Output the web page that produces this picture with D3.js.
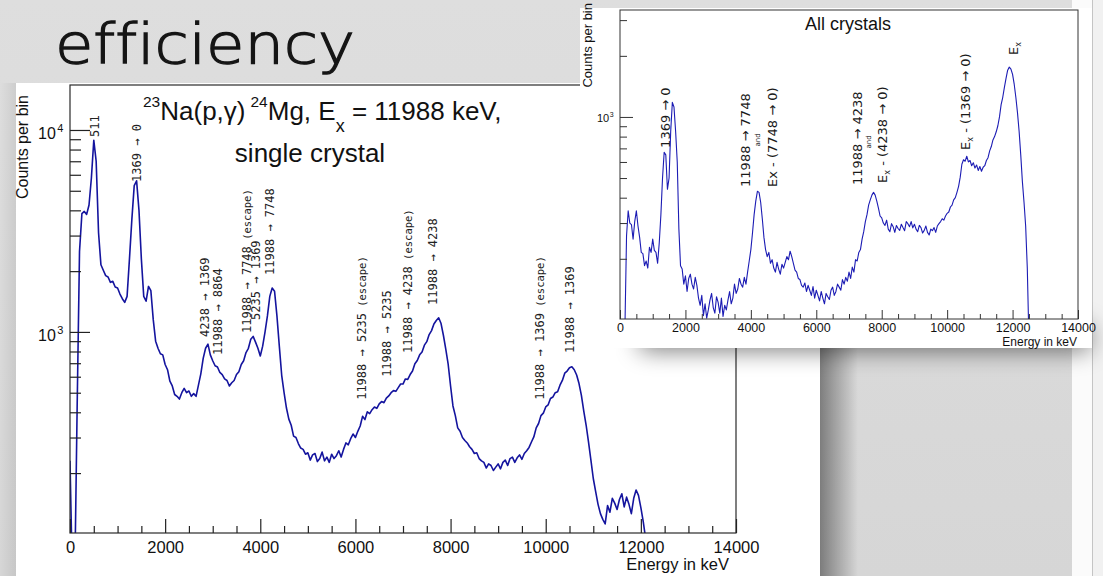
<!DOCTYPE html>
<html>
<head>
<meta charset="utf-8">
<script src="https://cdn.jsdelivr.net/npm/d3@7"></script>
<style>
  html, body { margin: 0; padding: 0; background: #d9d9d9; }
  svg { display: block; }
</style>
</head>
<body>
<svg id="slide" width="1103" height="576"></svg>
<script>
// ---- spectra: counts per 50 keV bin, starting at 0 keV ----
const binWidthKeV = 50;

const singleCrystalCounts = [
  230, 60, 60, 420, 2500, 3850, 3950, 3820, 4250, 5800, 8900, 7000, 3100, 2150, 2020, 1900, 1870, 1760, 1780, 1670,
  1650, 1540, 1460, 1400, 1500, 2300, 3600, 5300, 5600, 4000, 2300, 1500, 1420, 1680, 1600, 1150, 900, 830, 780, 770,
  690, 650, 570, 540, 490, 480, 465, 500, 525, 500, 510, 480, 495, 480, 545, 620, 740, 830, 870, 770,
  720, 680, 670, 630, 615, 585, 575, 540, 560, 575, 615, 635, 690, 720, 790, 830, 920, 950, 890, 830,
  760, 850, 1000, 1200, 1500, 1650, 1590, 1200, 850, 610, 500, 420, 370, 345, 305, 300, 280, 266, 262, 248,
  252, 232, 246, 250, 228, 236, 254, 230, 240, 226, 248, 236, 244, 258, 240, 262, 282, 276, 296, 312,
  300, 322, 342, 382, 368, 402, 394, 412, 425, 418, 440, 452, 446, 470, 482, 500, 512, 508, 530, 552,
  552, 585, 582, 615, 640, 695, 722, 770, 795, 860, 895, 970, 1015, 1095, 1140, 1175, 1100, 960, 820, 690,
  540, 430, 385, 335, 322, 300, 290, 282, 270, 262, 250, 252, 236, 230, 226, 212, 222, 218, 206, 214,
  222, 210, 226, 232, 218, 236, 240, 226, 238, 246, 234, 250, 258, 268, 285, 302, 335, 352, 385, 396,
  425, 435, 468, 476, 500, 505, 545, 575, 625, 640, 665, 672, 650, 612, 555, 485, 405, 345, 285, 232,
  188, 162, 140, 126, 118, 112, 138, 128, 150, 142, 132, 148, 158, 136, 152, 140, 126, 150, 165, 155,
  135, 115, 95, 60
];

const allCrystalsCounts = [
  60, 60, 60, 90, 260, 345, 300, 295, 250, 305, 345, 290, 255, 215, 212, 185, 195, 180, 228, 215,
  250, 220, 215, 190, 240, 330, 500, 670, 650, 440, 500, 850, 1180, 1120, 850, 600, 280, 185, 178, 150,
  165, 138, 160, 168, 150, 142, 162, 148, 128, 118, 132, 105, 120, 102, 112, 125, 135, 115, 108, 130,
  122, 108, 128, 104, 118, 112, 125, 138, 120, 128, 150, 135, 142, 160, 150, 145, 162, 150, 172, 195,
  222, 268, 330, 385, 430, 425, 380, 315, 255, 222, 205, 215, 190, 198, 180, 172, 192, 178, 168, 188,
  180, 192, 205, 198, 218, 205, 190, 176, 172, 160, 158, 148, 145, 152, 138, 148, 140, 132, 146, 128,
  140, 132, 124, 138, 128, 120, 135, 130, 126, 140, 145, 132, 138, 150, 145, 140, 158, 150, 162, 155,
  172, 160, 182, 172, 198, 195, 215, 222, 250, 272, 305, 330, 368, 390, 412, 425, 412, 385, 355, 325,
  318, 300, 292, 310, 280, 272, 298, 288, 270, 292, 282, 276, 296, 285, 275, 305, 298, 288, 305, 284,
  296, 280, 272, 292, 285, 268, 276, 290, 270, 262, 280, 275, 285, 270, 290, 298, 305, 315, 310, 325,
  335, 340, 360, 368, 390, 400, 425, 455, 505, 585, 615, 605, 640, 600, 610, 575, 595, 560, 580, 545,
  570, 540, 565, 575, 610, 630, 680, 715, 770, 800, 845, 905, 1000, 1150, 1250, 1400, 1550, 1700, 1760, 1720,
  1620, 1450, 1250, 1050, 850, 650, 480, 380, 290, 180, 80, 50
];

// ---- axes ----
const energyDomain = [0, 14000];
const energyTicks = [0, 2000, 4000, 6000, 8000, 10000, 12000, 14000];
const energyMinorStep = 500;
const singleCountsDomain = [101, 16700];
const allCountsDomain = [101, 3365];
const decadeTicks = [100, 1000, 10000];

// ---- annotations: [text, smaller suffix, energy keV, counts at text start] ----
const singleCrystalLabels = [
  ["511", "", 525, 9230],
  ["1369 \u2192 0", "", 1408, 5530],
  ["4238 \u2192 1369", "", 2838, 945],
  ["11988 \u2192 8864", "", 3111, 769],
  ["11988 \u2192 7748", " (escape)", 3721, 989],
  ["5235 \u2192 1369", "", 3910, 1147],
  ["11988 \u2192 7748", "", 4204, 1915],
  ["11988 \u2192 5235", " (escape)", 6138, 461],
  ["11988 \u2192 5235", "", 6664, 599],
  ["11988 \u2192 4238", " (escape)", 7105, 787],
  ["11988 \u2192 4238", "", 7631, 1360],
  ["11988 \u2192 1369", " (escape)", 9880, 461],
  ["11988 \u2192 1369", "", 10511, 787]
];

// pieces: [text, "sub" or ""]; anchor energy, counts
const allCrystalsLabels = [
  { parts: [["1369 \u2192 0", ""]], e: 1376, c: 704 },
  { parts: [["11988 \u2192 7748", ""]], e: 3821, c: 452 },
  { parts: [["and", ""]], e: 4219, c: 770, small: true },
  { parts: [["Ex - (7748 \u2192 0)", ""]], e: 4647, c: 452 },
  { parts: [["11988 \u2192 4238", ""]], e: 7245, c: 462 },
  { parts: [["and", ""]], e: 7612, c: 753, small: true },
  { parts: [["E", ""], ["x", "sub"], [" - (4238 \u2192 0)", ""]], e: 8010, c: 473 },
  { parts: [["E", ""], ["x", "sub"], [" - (1369 \u2192 0)", ""]], e: 10547, c: 688 },
  { parts: [["E", ""], ["x", "sub"]], e: 12015, c: 2020 }
];

const SANS = "'Liberation Sans', Arial, Helvetica, sans-serif";
const MONO = "'DejaVu Sans Mono', monospace";
const DSANS = "'DejaVu Sans', sans-serif";

const svg = d3.select("#slide");
const defs = svg.append("defs");

// slide background
const bgGrad = defs.append("linearGradient").attr("id", "bgGrad")
  .attr("x1", 0).attr("y1", 0).attr("x2", 0).attr("y2", 1);
bgGrad.append("stop").attr("offset", 0).attr("stop-color", "#dedede");
bgGrad.append("stop").attr("offset", 1).attr("stop-color", "#d6d6d6");
svg.append("rect").attr("width", 1103).attr("height", 576).attr("fill", "url(#bgGrad)");

// right margin strips
svg.append("rect").attr("x", 1072).attr("y", 0).attr("width", 20).attr("height", 576).attr("fill", "#fbfbfb");
svg.append("rect").attr("x", 1092).attr("y", 0).attr("width", 11).attr("height", 576).attr("fill", "#f1f1f1");
svg.append("line").attr("x1", 1092.5).attr("x2", 1092.5).attr("y1", 0).attr("y2", 576)
  .attr("stroke", "#c4c4c4").attr("stroke-width", 1);

// soft shadows
const soft = defs.append("filter").attr("id", "soft")
  .attr("x", "-30%").attr("y", "-200%").attr("width", "160%").attr("height", "500%");
soft.append("feGaussianBlur").attr("stdDeviation", 12);

const leftShade = defs.append("linearGradient").attr("id", "leftShade")
  .attr("x1", 0).attr("y1", 0).attr("x2", 1).attr("y2", 0);
leftShade.append("stop").attr("offset", 0).attr("stop-color", "#000").attr("stop-opacity", 0.0);
leftShade.append("stop").attr("offset", 1).attr("stop-color", "#000").attr("stop-opacity", 0.07);
svg.append("rect").attr("x", 0).attr("y", 83).attr("width", 16).attr("height", 493).attr("fill", "url(#leftShade)");

const rightShade = defs.append("linearGradient").attr("id", "rightShade")
  .attr("x1", 0).attr("y1", 0).attr("x2", 1).attr("y2", 0);
rightShade.append("stop").attr("offset", 0).attr("stop-color", "#000").attr("stop-opacity", 0.42);
rightShade.append("stop").attr("offset", 1).attr("stop-color", "#000").attr("stop-opacity", 0);
svg.append("rect").attr("x", 820).attr("y", 348).attr("width", 38).attr("height", 228).attr("fill", "url(#rightShade)");

// title
svg.append("text")
  .attr("x", 55).attr("y", 63)
  .attr("font-family", DSANS).attr("font-weight", 200)
  .attr("font-size", 56).attr("fill", "#151515")
  .attr("stroke", "#151515").attr("stroke-width", 1.3)
  .style("font-variant-ligatures", "none")
  .attr("textLength", 300).attr("lengthAdjust", "spacingAndGlyphs")
  .text("efficiency");

// ================= single crystal panel =================
svg.append("rect").attr("x", 16).attr("y", 83).attr("width", 804).attr("height", 493).attr("fill", "#ffffff");

const mx = d3.scaleLinear().domain(energyDomain).range([70, 736]);
const my = d3.scaleLog().domain(singleCountsDomain).range([533, 85]);

defs.append("clipPath").attr("id", "clipMain")
  .append("rect").attr("x", 70).attr("y", 85).attr("width", 666).attr("height", 448);

const mainG = svg.append("g");

const mainLine = d3.line()
  .x((d, i) => mx(i * binWidthKeV))
  .y(d => my(d));

mainG.append("path")
  .datum(singleCrystalCounts)
  .attr("clip-path", "url(#clipMain)")
  .attr("d", mainLine)
  .attr("fill", "none")
  .attr("stroke", "#14149e")
  .attr("stroke-width", 1.6)
  .attr("stroke-linejoin", "round");

// frame
mainG.append("rect").attr("x", 70).attr("y", 85).attr("width", 666).attr("height", 448)
  .attr("fill", "none").attr("stroke", "#2a2a2a").attr("stroke-width", 1.2);

// x axis ticks
const energyMinor = d3.range(energyDomain[0], energyDomain[1] + 1, energyMinorStep)
  .filter(v => !energyTicks.includes(v));

mainG.append("g").attr("transform", "translate(0,533)")
  .call(d3.axisBottom(mx).tickValues(energyMinor).tickSize(-7).tickFormat(""))
  .call(g => g.select(".domain").remove())
  .call(g => g.selectAll("line").attr("stroke", "#222").attr("stroke-width", 1.2));

mainG.append("g").attr("transform", "translate(0,533)")
  .call(d3.axisBottom(mx).tickValues(energyTicks).tickSize(-14).tickPadding(8.5).tickFormat(d3.format("d")))
  .call(g => g.select(".domain").remove())
  .call(g => g.selectAll("line").attr("stroke", "#222").attr("stroke-width", 1.2))
  .call(g => g.selectAll("text").attr("font-family", SANS).attr("font-size", 16.5).attr("fill", "#111"));

// y axis ticks (log)
function logTicks(domain) {
  const out = [];
  for (const dec of decadeTicks) {
    for (let k = 1; k <= 9; k++) {
      const v = dec * k;
      if (v >= domain[0] && v <= domain[1]) out.push(v);
    }
  }
  return out;
}
const mainYTicks = logTicks(singleCountsDomain);
const isDecade = v => decadeTicks.includes(v);

mainG.append("g").attr("transform", "translate(70,0)")
  .call(d3.axisLeft(my).tickValues(mainYTicks.filter(v => !isDecade(v))).tickSize(-11).tickFormat(""))
  .call(g => g.select(".domain").remove())
  .call(g => g.selectAll("line").attr("stroke", "#222").attr("stroke-width", 1.2));

mainG.append("g").attr("transform", "translate(70,0)")
  .call(d3.axisLeft(my).tickValues(mainYTicks.filter(isDecade)).tickSize(-20).tickFormat(""))
  .call(g => g.select(".domain").remove())
  .call(g => g.selectAll("line").attr("stroke", "#222").attr("stroke-width", 1.2));

mainYTicks.filter(isDecade).forEach(v => {
  const t = mainG.append("text")
    .attr("x", 38).attr("y", my(v) + 9.5)
    .attr("font-family", SANS).attr("font-size", 16).attr("fill", "#111");
  t.append("tspan").text("10");
  t.append("tspan").attr("font-size", 11).attr("dy", -7).attr("dx", 1.5).text(Math.round(Math.log10(v)));
});

// axis titles
mainG.append("text")
  .attr("transform", "translate(28,95) rotate(-90)")
  .attr("text-anchor", "end")
  .attr("font-family", SANS).attr("font-size", 16).attr("fill", "#111")
  .text("Counts per bin");

mainG.append("text")
  .attr("x", 729).attr("y", 570)
  .attr("text-anchor", "end")
  .attr("font-family", SANS).attr("font-size", 16.5).attr("fill", "#111")
  .text("Energy in keV");

// reaction title
const t1 = mainG.append("text")
  .attr("x", 143).attr("y", 120)
  .attr("font-family", SANS).attr("font-size", 26).attr("fill", "#111");
t1.append("tspan").attr("font-size", 15.5).attr("dy", -13).text("23");
t1.append("tspan").attr("dy", 13).text("Na(p,\u03b3)");
t1.append("tspan").attr("font-size", 15.5).attr("dy", -13).attr("dx", 5).text("24");
t1.append("tspan").attr("dy", 13).text("Mg, E");
t1.append("tspan").attr("font-size", 18).attr("dy", 12).text("x");
t1.append("tspan").attr("dy", -12).text(" = 11988 keV,");

mainG.append("text")
  .attr("x", 310).attr("y", 162)
  .attr("text-anchor", "middle")
  .attr("font-family", SANS).attr("font-size", 26).attr("fill", "#111")
  .text("single crystal");

// transition labels
singleCrystalLabels.forEach(([txt, suffix, e, c]) => {
  const t = mainG.append("text")
    .attr("transform", `translate(${mx(e)},${my(c)}) rotate(-90)`)
    .attr("dy", "0.35em")
    .attr("font-family", MONO).attr("font-size", 12).attr("fill", "#222");
  t.append("tspan").text(txt);
  if (suffix) t.append("tspan").attr("font-size", 10.5).text(suffix);
});

// ================= all crystals inset =================
svg.append("rect").attr("x", 640).attr("y", 326).attr("width", 450).attr("height", 24)
  .attr("fill", "#000").attr("opacity", 0.55).attr("filter", "url(#soft)");

svg.append("rect").attr("x", 580).attr("y", 8).attr("width", 512).attr("height", 340).attr("fill", "#ffffff");

const ix = d3.scaleLinear().domain(energyDomain).range([620, 1078]);
const iy = d3.scaleLog().domain(allCountsDomain).range([319, 10]);

defs.append("clipPath").attr("id", "clipInset")
  .append("rect").attr("x", 620).attr("y", 10).attr("width", 458).attr("height", 309);

const insG = svg.append("g");

const insetLine = d3.line()
  .x((d, i) => ix(i * binWidthKeV))
  .y(d => iy(d));

insG.append("path")
  .datum(allCrystalsCounts)
  .attr("clip-path", "url(#clipInset)")
  .attr("d", insetLine)
  .attr("fill", "none")
  .attr("stroke", "#1c1cb4")
  .attr("stroke-width", 1.1)
  .attr("stroke-linejoin", "round");

insG.append("rect").attr("x", 620).attr("y", 10).attr("width", 458).attr("height", 309)
  .attr("fill", "none").attr("stroke", "#333").attr("stroke-width", 1);

insG.append("g").attr("transform", "translate(0,319)")
  .call(d3.axisBottom(ix).tickValues(energyMinor).tickSize(-5).tickFormat(""))
  .call(g => g.select(".domain").remove())
  .call(g => g.selectAll("line").attr("stroke", "#333"));

insG.append("g").attr("transform", "translate(0,319)")
  .call(d3.axisBottom(ix).tickValues(energyTicks).tickSize(-9).tickPadding(4).tickFormat(d3.format("d")))
  .call(g => g.select(".domain").remove())
  .call(g => g.selectAll("line").attr("stroke", "#333"))
  .call(g => g.selectAll("text").attr("font-family", SANS).attr("font-size", 12.5).attr("fill", "#111"));

const insYTicks = logTicks(allCountsDomain);

insG.append("g").attr("transform", "translate(620,0)")
  .call(d3.axisLeft(iy).tickValues(insYTicks.filter(v => !isDecade(v))).tickSize(-7).tickFormat(""))
  .call(g => g.select(".domain").remove())
  .call(g => g.selectAll("line").attr("stroke", "#333"));

insG.append("g").attr("transform", "translate(620,0)")
  .call(d3.axisLeft(iy).tickValues(insYTicks.filter(isDecade)).tickSize(-13).tickFormat(""))
  .call(g => g.select(".domain").remove())
  .call(g => g.selectAll("line").attr("stroke", "#333"));

insYTicks.filter(isDecade).forEach(v => {
  const t = insG.append("text")
    .attr("x", 597).attr("y", iy(v) + 5)
    .attr("font-family", SANS).attr("font-size", 11).attr("fill", "#111");
  t.append("tspan").text("10");
  t.append("tspan").attr("font-size", 7).attr("dy", -5).attr("dx", 0.5).text(Math.round(Math.log10(v)));
});

insG.append("text")
  .attr("transform", "translate(592,3) rotate(-90)")
  .attr("text-anchor", "end")
  .attr("font-family", SANS).attr("font-size", 13).attr("fill", "#111")
  .text("Counts per bin");

insG.append("text")
  .attr("x", 1077).attr("y", 345.5)
  .attr("text-anchor", "end")
  .attr("font-family", SANS).attr("font-size", 12).attr("fill", "#111")
  .text("Energy in keV");

insG.append("text")
  .attr("x", 848).attr("y", 30)
  .attr("text-anchor", "middle")
  .attr("font-family", SANS).attr("font-size", 18).attr("fill", "#111")
  .text("All crystals");

allCrystalsLabels.forEach(lab => {
  const t = insG.append("text")
    .attr("transform", `translate(${ix(lab.e)},${iy(lab.c)}) rotate(-90)`)
    .attr("dy", "0.35em")
    .attr("text-anchor", lab.small ? "middle" : "start")
    .attr("font-family", DSANS).attr("font-size", lab.small ? 7 : 13).attr("fill", "#1a1a1a");
  let shifted = 0;
  lab.parts.forEach(([txt, kind]) => {
    const s = t.append("tspan").text(txt);
    if (kind === "sub") { s.attr("font-size", 8).attr("dy", 3); shifted = 3; }
    else if (shifted) { s.attr("dy", -shifted); shifted = 0; }
  });
});
</script>
</body>
</html>
